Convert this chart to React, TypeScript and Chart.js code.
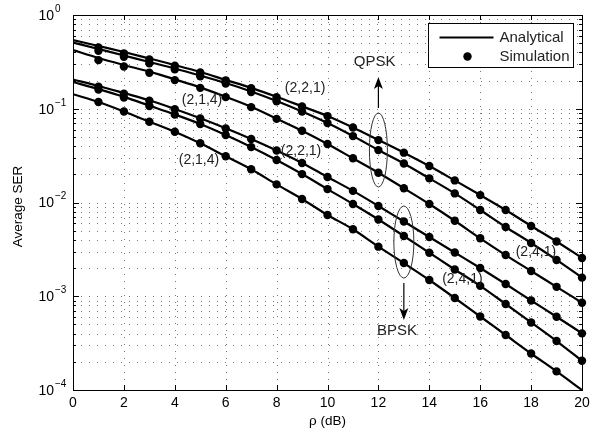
import { useEffect, useRef } from "react";
import { Chart, registerables } from "chart.js";

Chart.register(...registerables);

// rho (dB)
const snr = [0, 1, 2, 3, 4, 5, 6, 7, 8, 9, 10, 11, 12, 13, 14, 15, 16, 17, 18, 19, 20];
const simSnr = [1, 2, 3, 4, 5, 6, 7, 8, 9, 10, 11, 12, 13, 14, 15, 16, 17, 18, 19, 20];

// Analytical SER curves
const qpsk221 = [0.541, 0.467, 0.403, 0.344, 0.293, 0.247, 0.203, 0.167, 0.134, 0.106, 0.0837, 0.0631, 0.0464, 0.034, 0.0245, 0.0172, 0.012, 0.00832, 0.00562, 0.00384, 0.00256];
const qpsk241 = [0.509, 0.434, 0.37, 0.315, 0.269, 0.226, 0.188, 0.153, 0.121, 0.0935, 0.0705, 0.0512, 0.0363, 0.0261, 0.0181, 0.0125, 0.00832, 0.00548, 0.0037, 0.00244, 0.00158];
const qpsk214 = [0.423, 0.348, 0.293, 0.249, 0.206, 0.169, 0.134, 0.105, 0.0783, 0.0583, 0.0421, 0.0296, 0.0208, 0.0142, 0.00964, 0.00639, 0.00415, 0.00275, 0.00186, 0.00126, 0.000853];
const bpsk221 = [0.205, 0.175, 0.147, 0.123, 0.0994, 0.0791, 0.0619, 0.0476, 0.0359, 0.0264, 0.0187, 0.0133, 0.00918, 0.00627, 0.00429, 0.00293, 0.002, 0.00135, 0.000901, 0.000605, 0.000402];
const bpsk241 = [0.193, 0.162, 0.134, 0.108, 0.0869, 0.0688, 0.0525, 0.0391, 0.0284, 0.0201, 0.0139, 0.00964, 0.00659, 0.00439, 0.00291, 0.00193, 0.00129, 0.000827, 0.000525, 0.000333, 0.000205];
const bpsk214 = [0.143, 0.118, 0.0935, 0.0728, 0.0569, 0.0428, 0.0311, 0.0226, 0.0156, 0.0109, 0.00736, 0.00518, 0.00338, 0.00226, 0.00149, 0.000958, 0.000608, 0.000386, 0.000245, 0.000158, 0.0001];

// Simulation SER points (rho = 1..20)
const simQpsk221 = [0.45, 0.39, 0.335, 0.288, 0.244, 0.201, 0.166, 0.133, 0.106, 0.0835, 0.063, 0.0463, 0.034, 0.0245, 0.0172, 0.012, 0.00832, 0.00562, 0.00384, 0.00256];
const simQpsk241 = [0.415, 0.358, 0.306, 0.263, 0.222, 0.186, 0.151, 0.12, 0.0932, 0.0703, 0.0511, 0.0362, 0.0261, 0.0181, 0.0125, 0.00832, 0.00548, 0.0037, 0.00244, 0.00158];
const simQpsk214 = [0.33, 0.282, 0.242, 0.202, 0.167, 0.133, 0.104, 0.078, 0.0582, 0.042, 0.0296, 0.0208, 0.0142, 0.00964, 0.00639, 0.00415, 0.00275, 0.00186, 0.00126, 0.000853];
const simBpsk221 = [0.172, 0.145, 0.122, 0.0988, 0.0788, 0.0617, 0.0475, 0.0358, 0.0264, 0.0187, 0.0133, 0.00918, 0.00627, 0.00429, 0.00293, 0.002, 0.00135, 0.000901, 0.000605, 0.000402];
const simBpsk241 = [0.16, 0.132, 0.107, 0.0865, 0.0686, 0.0524, 0.039, 0.0284, 0.0201, 0.0139, 0.00964, 0.00659, 0.00439, 0.00291, 0.00193, 0.00129, 0.000827, 0.000525, 0.000333, 0.000205];
const simBpsk214 = [0.118, 0.0935, 0.0728, 0.0569, 0.0428, 0.0311, 0.0226, 0.0156, 0.0109, 0.00736, 0.00518, 0.00338, 0.00226, 0.00149, 0.000958, 0.000608, 0.000386, 0.000245, 0.000158, null];

const xTickValues = [0, 2, 4, 6, 8, 10, 12, 14, 16, 18, 20];
const yDecades = [0, -1, -2, -3, -4];

const curveLabels = [
  { text: "(2,2,1)", x: 9.12, y: 0.1665 },
  { text: "(2,1,4)", x: 5.07, y: 0.124 },
  { text: "(2,2,1)", x: 8.96, y: 0.0354 },
  { text: "(2,1,4)", x: 4.95, y: 0.0284 },
  { text: "(2,4,1)", x: 18.19, y: 0.00296 },
  { text: "(2,4,1)", x: 15.3, y: 0.00153 },
];

const FONT = '"Liberation Sans", Arial, Helvetica, sans-serif';

export default function App() {
  const ref = useRef<HTMLCanvasElement>(null);

  useEffect(() => {
    document.body.style.margin = "0";
    const canvas = ref.current;
    if (!canvas) return;

    const analytic = [qpsk221, qpsk241, qpsk214, bpsk221, bpsk241, bpsk214].map((arr) => ({
      label: "Analytical",
      data: snr.map((x, i) => ({ x, y: arr[i] })),
      borderColor: "#000",
      borderWidth: 2.2,
      pointRadius: 0,
      cubicInterpolationMode: "monotone" as const,
      fill: false,
    }));
    const sims = [simQpsk221, simQpsk241, simQpsk214, simBpsk221, simBpsk241, simBpsk214].map((arr) => ({
      label: "Simulation",
      data: simSnr.map((x, i) => ({ x, y: arr[i] })).filter((p) => p.y !== null),
      showLine: false,
      borderColor: "#000",
      backgroundColor: "#000",
      pointRadius: 4.2,
      pointBorderWidth: 0,
      clip: false as any,
    }));

    const gridPlugin = {
      id: "matlabGrid",
      beforeDatasetsDraw(chart: any) {
        const { ctx, chartArea: a, scales } = chart;
        const xs = scales.x;
        const ys = scales.y;
        ctx.save();
        ctx.strokeStyle = "#777";
        ctx.lineWidth = 1;
        ctx.setLineDash([1, 7]);
        for (let d = -4; d < 0; d++) {
          for (let k = 1; k <= 9; k++) {
            const v = k * Math.pow(10, d);
            if (v <= 1e-4) continue;
            const py = Math.round(ys.getPixelForValue(v)) + 0.5;
            ctx.beginPath();
            ctx.moveTo(a.left, py);
            ctx.lineTo(a.right, py);
            ctx.stroke();
          }
        }
        ctx.setLineDash([1, 6]);
        for (const xv of xTickValues) {
          if (xv === 0 || xv === 20) continue;
          const px = Math.round(xs.getPixelForValue(xv)) + 0.5;
          ctx.beginPath();
          ctx.moveTo(px, a.top);
          ctx.lineTo(px, a.bottom);
          ctx.stroke();
        }
        ctx.restore();
      },
    };

    const decorPlugin = {
      id: "matlabDecor",
      afterDraw(chart: any) {
        const { ctx, chartArea: a, scales } = chart;
        const xs = scales.x;
        const ys = scales.y;
        ctx.save();
        // frame
        ctx.strokeStyle = "#000";
        ctx.lineWidth = 1;
        ctx.setLineDash([]);
        ctx.strokeRect(Math.round(a.left) + 0.5, Math.round(a.top) + 0.5, Math.round(a.right - a.left), Math.round(a.bottom - a.top));
        // ticks
        ctx.beginPath();
        for (let d = -4; d < 0; d++) {
          for (let k = 1; k <= 9; k++) {
            const v = k * Math.pow(10, d);
            const py = Math.round(ys.getPixelForValue(v)) + 0.5;
            const len = k === 1 ? 6 : 3;
            ctx.moveTo(a.left, py);
            ctx.lineTo(a.left + len, py);
            ctx.moveTo(a.right, py);
            ctx.lineTo(a.right - len, py);
          }
        }
        for (const xv of xTickValues) {
          const px = Math.round(xs.getPixelForValue(xv)) + 0.5;
          ctx.moveTo(px, a.bottom);
          ctx.lineTo(px, a.bottom - 5);
          ctx.moveTo(px, a.top);
          ctx.lineTo(px, a.top + 5);
        }
        ctx.stroke();

        // tick labels
        ctx.fillStyle = "#000";
        for (const d of yDecades) {
          const py = ys.getPixelForValue(Math.pow(10, d));
          ctx.font = `14px ${FONT}`;
          ctx.textAlign = "right";
          ctx.textBaseline = "middle";
          ctx.fillText("10", a.left - 19, py + 1);
          ctx.font = `10px ${FONT}`;
          ctx.textAlign = "left";
          ctx.fillText(d === 0 ? "0" : "\u2212" + String(-d), a.left - 18, py - 6);
        }
        ctx.font = `14px ${FONT}`;
        ctx.textAlign = "center";
        ctx.textBaseline = "top";
        for (const xv of xTickValues) {
          ctx.fillText(String(xv), xs.getPixelForValue(xv), a.bottom + 6);
        }
        // axis titles
        ctx.font = `13.5px ${FONT}`;
        ctx.textBaseline = "middle";
        ctx.fillText("\u03c1 (dB)", (a.left + a.right) / 2, a.bottom + 31);
        ctx.save();
        ctx.translate(a.left - 55, (a.top + a.bottom) / 2 + 4);
        ctx.rotate(-Math.PI / 2);
        ctx.fillText("Average SER", 0, 0);
        ctx.restore();

        // curve labels
        ctx.fillStyle = "#222";
        ctx.font = `14px ${FONT}`;
        for (const l of curveLabels) {
          ctx.fillText(l.text, xs.getPixelForValue(l.x), ys.getPixelForValue(l.y));
        }

        // ellipses + arrows
        ctx.strokeStyle = "#333";
        ctx.lineWidth = 1;
        const qx = xs.getPixelForValue(12);
        const qy = ys.getPixelForValue(0.0363);
        ctx.beginPath();
        ctx.ellipse(qx, qy, 9, 37, 0, 0, Math.PI * 2);
        ctx.stroke();
        const bx = xs.getPixelForValue(13);
        const by = ys.getPixelForValue(0.00379);
        ctx.beginPath();
        ctx.ellipse(bx, by, 10, 36, 0, 0, Math.PI * 2);
        ctx.stroke();

        ctx.strokeStyle = "#000";
        ctx.fillStyle = "#000";
        ctx.lineWidth = 1.2;
        // up arrow
        const upTip = qy - 73;
        ctx.beginPath();
        ctx.moveTo(qx, qy - 42);
        ctx.lineTo(qx, upTip + 6);
        ctx.stroke();
        ctx.beginPath();
        ctx.moveTo(qx, upTip);
        ctx.lineTo(qx - 4.5, upTip + 12);
        ctx.lineTo(qx, upTip + 9);
        ctx.lineTo(qx + 4.5, upTip + 12);
        ctx.closePath();
        ctx.fill();
        // down arrow
        const dnTip = by + 78;
        ctx.beginPath();
        ctx.moveTo(bx, by + 41);
        ctx.lineTo(bx, dnTip - 6);
        ctx.stroke();
        ctx.beginPath();
        ctx.moveTo(bx, dnTip);
        ctx.lineTo(bx - 4.5, dnTip - 12);
        ctx.lineTo(bx, dnTip - 9);
        ctx.lineTo(bx + 4.5, dnTip - 12);
        ctx.closePath();
        ctx.fill();

        ctx.font = `15px ${FONT}`;
        ctx.fillStyle = "#222";
        ctx.textAlign = "center";
        ctx.textBaseline = "middle";
        ctx.fillText("QPSK", xs.getPixelForValue(11.85), ys.getPixelForValue(0.315));
        ctx.fillText("BPSK", xs.getPixelForValue(12.73), ys.getPixelForValue(0.000426));

        // legend
        const lx = Math.round(a.right) - 154 + 0.5;
        const ly = Math.round(a.top) + 8 + 0.5;
        const lw = 145;
        const lh = 44;
        ctx.fillStyle = "#fff";
        ctx.fillRect(lx, ly, lw, lh);
        ctx.strokeStyle = "#000";
        ctx.lineWidth = 1;
        ctx.strokeRect(lx, ly, lw, lh);
        ctx.lineWidth = 2.2;
        ctx.beginPath();
        ctx.moveTo(lx + 11, ly + 14);
        ctx.lineTo(lx + 65, ly + 14);
        ctx.stroke();
        ctx.fillStyle = "#000";
        ctx.beginPath();
        ctx.arc(lx + 39, ly + 33, 4.2, 0, Math.PI * 2);
        ctx.fill();
        ctx.font = `15px ${FONT}`;
        ctx.fillStyle = "#222";
        ctx.textAlign = "left";
        ctx.textBaseline = "middle";
        ctx.fillText("Analytical", lx + 71, ly + 14);
        ctx.fillText("Simulation", lx + 71, ly + 33);
        ctx.restore();
      },
    };

    const chart = new Chart(canvas, {
      type: "line",
      data: { datasets: [...analytic, ...sims] as any },
      options: {
        animation: false,
        responsive: false,
        layout: { padding: { left: 73, right: 26, top: 15, bottom: 47 } },
        plugins: { legend: { display: false }, tooltip: { enabled: false } },
        scales: {
          x: {
            type: "linear",
            min: 0,
            max: 20,
            ticks: { display: false, stepSize: 2 },
            grid: { display: false, drawTicks: false },
            border: { display: false },
          },
          y: {
            type: "logarithmic",
            min: 1e-4,
            max: 1,
            ticks: { display: false },
            grid: { display: false, drawTicks: false },
            border: { display: false },
          },
        },
      },
      plugins: [gridPlugin, decorPlugin],
    });

    return () => chart.destroy();
  }, []);

  return (
    <div style={{ width: 608, height: 437 }}>
      <canvas ref={ref} width={608} height={437} style={{ display: "block" }} />
    </div>
  );
}
